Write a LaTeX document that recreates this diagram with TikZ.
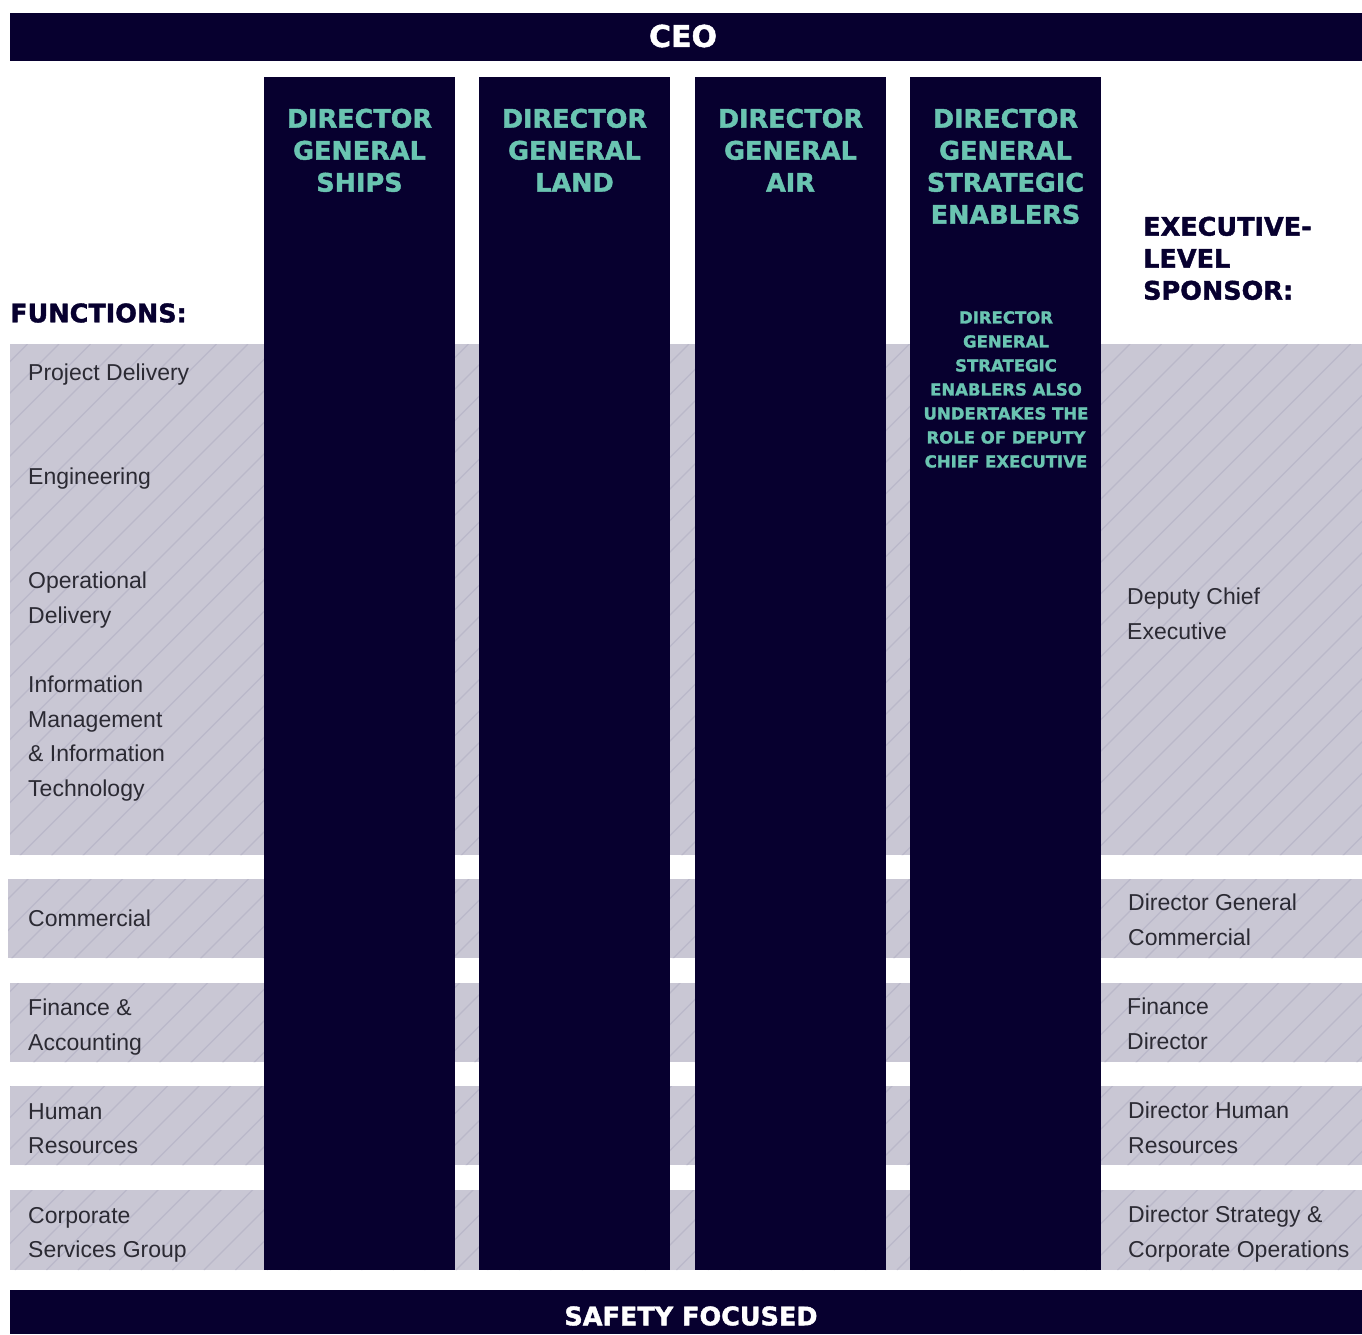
\documentclass[tikz,border=0pt]{standalone}
\usepackage{fontspec}
\setmainfont{Liberation Sans}
\newfontfamily\headfont{DejaVu Sans}[BoldFeatures={FakeBold=1.6}]

\definecolor{navy}{HTML}{07002F}
\definecolor{dgteal}{HTML}{6AC4B1}
\definecolor{bandgray}{HTML}{C9C7D4}
\definecolor{hatchgray}{HTML}{BAB8C9}
\definecolor{bodytext}{HTML}{2B2A33}

\begin{document}
\begin{tikzpicture}[x=1pt,y=-1pt,
  bar/.style={fill=navy},
  band/.style={fill=bandgray},
  hatchline/.style={draw=hatchgray,line width=1.3pt},
  bartext/.style={text=white,inner sep=0,font=\headfont\bfseries\fontsize{25.5}{32}\selectfont},
  dghead/.style={anchor=north,text=dgteal,align=center,inner sep=0,font=\headfont\bfseries\fontsize{25.5}{32}\selectfont},
  dgnote/.style={anchor=north,text=dgteal,align=center,inner sep=0,font=\headfont\bfseries\fontsize{16.5}{24}\selectfont},
  label/.style={text=navy,align=left,inner sep=0,font=\headfont\bfseries\fontsize{25.5}{32}\selectfont},
  unit/.style={anchor=north west,text=bodytext,align=left,inner sep=0,font=\fontsize{23}{34.5}\selectfont}]
\useasboundingbox (0,0) rectangle (1362,1334);

% top and bottom bars
\fill[bar] (10,13) rectangle (1362,61);
\fill[bar] (10,1290) rectangle (1362,1334);

% function bands with hatching
\fill[band] (10,344) rectangle (1362,855);
\fill[band] (8,879) rectangle (1362,958);
\fill[band] (10,983) rectangle (1362,1062);
\fill[band] (10,1086) rectangle (1362,1165);
\fill[band] (10,1190) rectangle (1362,1270);
\begin{scope}
  \clip (10,344) rectangle (1362,855) (8,879) rectangle (1362,958)
        (10,983) rectangle (1362,1062) (10,1086) rectangle (1362,1165)
        (10,1190) rectangle (1362,1270);
  \foreach \x in {-930,-898.5,...,1380}
    \draw[hatchline] (\x,1270) -- ++(926,-926);
\end{scope}

% director general columns
\fill[bar] (264,77) rectangle (455,1270);
\fill[bar] (479,77) rectangle (670,1270);
\fill[bar] (695,77) rectangle (886,1270);
\fill[bar] (910,77) rectangle (1101,1270);

\node[bartext,font=\headfont\bfseries\fontsize{30}{32}\selectfont] (ceo) at (683,36) {CEO};
\node[bartext] (safety) at (691,1316) {SAFETY FOCUSED};

\node[dghead] (dgships) at (359.5,108.5) {DIRECTOR\\GENERAL\\SHIPS};
\node[dghead] (dgland) at (574.5,108.5) {DIRECTOR\\GENERAL\\LAND};
\node[dghead] (dgair) at (790.5,108.5) {DIRECTOR\\GENERAL\\AIR};
\node[dghead] (dgse) at (1005.5,108.5) {DIRECTOR\\GENERAL\\STRATEGIC\\ENABLERS};
\node[dgnote] (dgsenote) at (1006,311) {DIRECTOR\\GENERAL\\STRATEGIC\\ENABLERS ALSO\\UNDERTAKES THE\\ROLE OF DEPUTY\\CHIEF EXECUTIVE};

\node[label,anchor=west] (functions) at (10,313) {FUNCTIONS:};
\node[label,anchor=north west] (sponsor) at (1143,216.5) {EXECUTIVE-\\LEVEL\\SPONSOR:};

% functions
\node[unit] (fnproject) at (28,364) {Project Delivery};
\node[unit] (fneng) at (28,468) {Engineering};
\node[unit] (fnops) at (28,572) {Operational\\Delivery};
\node[unit] (fninfo) at (28,676) {Information\\Management\\\& Information\\Technology};
\node[unit] (fncomm) at (28,910) {Commercial};
\node[unit] (fnfin) at (28,999) {Finance \&\\Accounting};
\node[unit] (fnhr) at (28,1103) {Human\\Resources};
\node[unit] (fncorp) at (28,1207) {Corporate\\Services Group};

% sponsors
\node[unit] (spdeputy) at (1127,588) {Deputy Chief\\Executive};
\node[unit] (spcomm) at (1128,894) {Director General\\Commercial};
\node[unit] (spfin) at (1127,998) {Finance\\Director};
\node[unit] (sphr) at (1128,1102) {Director Human\\Resources};
\node[unit] (spstrat) at (1128,1206) {Director Strategy \&\\Corporate Operations};
\end{tikzpicture}
\end{document}
